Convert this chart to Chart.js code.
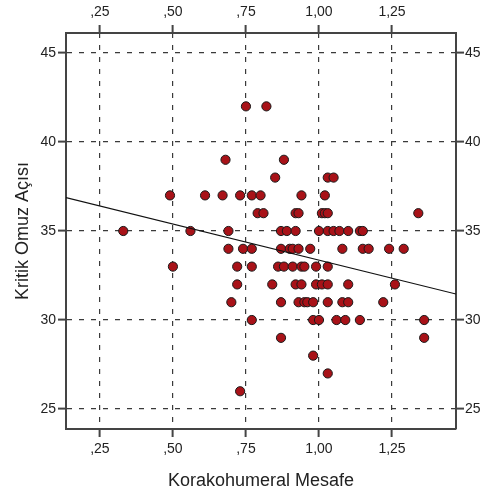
<!DOCTYPE html>
<html>
<head>
<meta charset="utf-8">
<script src="https://cdn.jsdelivr.net/npm/chart.js@4/dist/chart.umd.min.js"></script>
<style>
  body { margin: 0; background: #fff; }
</style>
</head>
<body>
<canvas id="chart" width="483" height="497"></canvas>
<script>
// Korakohumeral Mesafe (x) / Kritik Omuz Açısı (y), one line per y row
const korakohumeral = [
  0.75, 0.82,
  0.68, 0.88,
  0.85, 1.03, 1.05,
  0.49, 0.61, 0.67, 0.73, 0.77, 0.80, 0.94, 1.02,
  0.79, 0.81, 0.92, 0.93, 1.01, 1.02, 1.03, 1.34,
  0.33, 0.56, 0.69, 0.87, 0.89, 0.92, 1.00, 1.03, 1.05, 1.07, 1.10, 1.14, 1.15,
  0.69, 0.74, 0.77, 0.87, 0.90, 0.91, 0.93, 0.97, 1.08, 1.15, 1.17, 1.24, 1.29,
  0.50, 0.72, 0.77, 0.86, 0.88, 0.91, 0.94, 0.95, 0.99, 1.03,
  0.72, 0.84, 0.92, 0.94, 0.99, 1.01, 1.03, 1.10, 1.26,
  0.70, 0.87, 0.93, 0.95, 0.96, 0.98, 1.03, 1.08, 1.10, 1.22,
  0.77, 0.98, 1.00, 1.06, 1.09, 1.14, 1.36,
  0.87, 1.36,
  0.98,
  1.03,
  0.73
];
const kritikOmuz = [
  42, 42,
  39, 39,
  38, 38, 38,
  37, 37, 37, 37, 37, 37, 37, 37,
  36, 36, 36, 36, 36, 36, 36, 36,
  35, 35, 35, 35, 35, 35, 35, 35, 35, 35, 35, 35, 35,
  34, 34, 34, 34, 34, 34, 34, 34, 34, 34, 34, 34, 34,
  33, 33, 33, 33, 33, 33, 33, 33, 33, 33,
  32, 32, 32, 32, 32, 32, 32, 32, 32,
  31, 31, 31, 31, 31, 31, 31, 31, 31, 31,
  30, 30, 30, 30, 30, 30, 30,
  29, 29,
  28,
  27,
  26
];

// fit line end points
const fitX = [0.134, 1.469];
const fitY = [36.87, 31.46];

const xTicks = [0.25, 0.50, 0.75, 1.00, 1.25];
const xTickLabels = [',25', ',50', ',75', '1,00', '1,25'];
const yTicks = [25, 30, 35, 40, 45];

const xMin = 0.134, xMax = 1.469;
const yMin = 23.88, yMax = 46.12;

const frameColor = '#444';
const gridDash = [5, 7];

let points = korakohumeral.map((v, i) => ({ x: v, y: kritikOmuz[i] }));
let line = fitX.map((v, i) => ({ x: v, y: fitY[i] }));

function fixSize(w, h) {
  return function (scale) {
    if (w !== null) scale.width = w;
    if (h !== null) scale.height = h;
  };
}

function xAxis(pos, showGrid, h) {
  return {
    type: 'linear', position: pos, min: xMin, max: xMax,
    afterBuildTicks: (s) => { s.ticks = xTicks.map(v => ({ value: v })); },
    afterFit: fixSize(null, h),
    ticks: {
      color: '#222', font: { family: 'Liberation Sans, Arial', size: 14 }, padding: 4,
      maxRotation: 0, autoSkip: false,
      callback: (v) => xTickLabels[xTicks.indexOf(v)] ?? ''
    },
    grid: { drawOnChartArea: showGrid, color: '#3a3a3a', lineWidth: 1.2, tickLength: 8, tickColor: frameColor, tickWidth: 2 },
    border: { display: true, color: frameColor, width: 2, dash: gridDash },
    title: pos === 'bottom' ? {
      display: true, text: 'Korakohumeral Mesafe', color: '#222',
      font: { family: 'Liberation Sans, Arial', size: 18 }, padding: { top: 4, bottom: 5 }
    } : { display: false }
  };
}

function yAxis(pos, showGrid, w) {
  return {
    type: 'linear', position: pos, min: yMin, max: yMax,
    afterBuildTicks: (s) => { s.ticks = yTicks.map(v => ({ value: v })); },
    afterFit: fixSize(w, null),
    ticks: {
      color: '#222', font: { family: 'Liberation Sans, Arial', size: 14 }, padding: pos === 'left' ? 2 : 1,
      autoSkip: false, callback: (v) => String(v)
    },
    grid: { drawOnChartArea: showGrid, color: '#3a3a3a', lineWidth: 1.2, tickLength: 8, tickColor: frameColor, tickWidth: 2 },
    border: { display: true, color: frameColor, width: 2, dash: gridDash },
    title: pos === 'left' ? {
      display: true, text: 'Kritik Omuz Açısı', color: '#222',
      font: { family: 'Liberation Sans, Arial', size: 18 }, padding: { top: 12, bottom: 4 }
    } : { display: false }
  };
}

new Chart(document.getElementById('chart'), {
  type: 'scatter',
  data: {
    datasets: [
      {
        data: points,
        backgroundColor: '#a81218',
        borderColor: '#1a1a1a',
        borderWidth: 1,
        pointRadius: 4.6,
        order: 2
      },
      {
        data: line,
        showLine: true,
        borderColor: '#111',
        borderWidth: 1.2,
        pointRadius: 0,
        fill: false,
        order: 1
      }
    ]
  },
  options: {
    responsive: false,
    animation: false,
    layout: { padding: 0 },
    plugins: { legend: { display: false }, tooltip: { enabled: false } },
    scales: {
      x: xAxis('bottom', true, 68),
      x2: xAxis('top', false, 33),
      y: yAxis('left', true, 66),
      y2: yAxis('right', false, 27)
    }
  }
});
</script>
</body>
</html>
